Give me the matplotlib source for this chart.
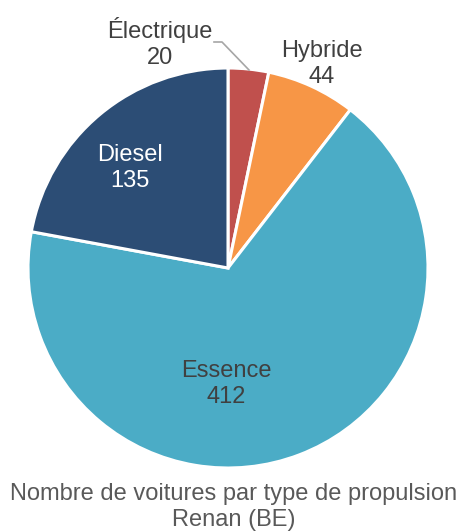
import matplotlib
matplotlib.use("Agg")
import matplotlib.pyplot as plt

categories = ["Électrique", "Hybride", "Essence", "Diesel"]
values = [20, 44, 412, 135]
colors = ["#C0504D", "#F79646", "#4BACC6", "#2C4D75"]
title_lines = ["Nombre de voitures par type de propulsion", "Renan (BE)"]

plt.rcParams['font.family'] = ['Liberation Sans', 'DejaVu Sans']

W, H = 468, 531
fig = plt.figure(figsize=(W/100, H/100), dpi=100)
cx, cy, r = 228, 268, 200
ax = fig.add_axes([(cx - r)/W, (H - cy - r)/H, 2*r/W, 2*r/H])
ax.pie(values, colors=colors, startangle=90, counterclock=False,
       radius=1.0, wedgeprops=dict(edgecolor="white", linewidth=2.2))
ax.set_xlim(-1, 1)
ax.set_ylim(-1, 1)
ax.set_aspect('auto')
ax.axis('off')

def d(px, py):
    return ((px - cx)/r, (cy - py)/r)

fs = 17
lab_pos = {
    "Électrique": (160, 43),
    "Hybride": (322, 64),
    "Essence": (226, 384),
    "Diesel": (130, 168),
}
txtcol = {"Électrique": "#404040", "Hybride": "#404040", "Essence": "#404040", "Diesel": "white"}
for c, v in zip(categories, values):
    x, y = d(*lab_pos[c])
    ax.text(x, y, f"{c}\n{v}", ha="center", va="center", fontsize=fs,
            color=txtcol[c], linespacing=1.25)

# leader line for Électrique
p0 = d(214, 42); p1 = d(222, 42); p2 = d(249, 70)
ax.plot([p0[0], p1[0], p2[0]], [p0[1], p1[1], p2[1]], color="#A6A6A6", lw=1.2, clip_on=False)

fig.text(0.5, 1 - 494/H, title_lines[0], ha="center", va="center", fontsize=17, color="#595959")
fig.text(0.5, 1 - 520/H, title_lines[1], ha="center", va="center", fontsize=17, color="#595959")

fig.savefig("out.png", dpi=100)
